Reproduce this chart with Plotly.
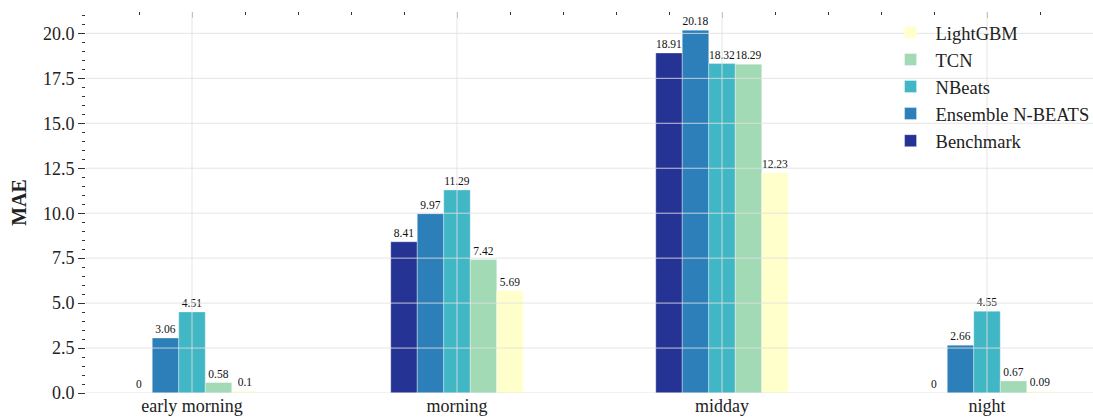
import plotly.graph_objects as go

# periods of the day on the x axis
periods = ["early morning", "morning", "midday", "night"]

# MAE per model, one value per period
benchmark = [0, 8.41, 18.91, 0]
ensemble_nbeats = [3.06, 9.97, 20.18, 2.66]
nbeats = [4.51, 11.29, 18.32, 4.55]
tcn = [0.58, 7.42, 18.29, 0.67]
lightgbm = [0.1, 5.69, 12.23, 0.09]

y_ticks = [0, 2.5, 5, 7.5, 10, 12.5, 15, 17.5, 20]

SERIES = [
    ("Benchmark", benchmark, "#253494"),
    ("Ensemble N-BEATS", ensemble_nbeats, "#2c7fb8"),
    ("NBeats", nbeats, "#41b6c4"),
    ("TCN", tcn, "#a1dab4"),
    ("LightGBM", lightgbm, "#ffffcc"),
]

FONT = "Liberation Serif"
GRID = "rgba(225,225,225,0.85)"

pos = list(range(len(periods)))
xrange = [-0.4, len(periods) - 0.6]

fig = go.Figure()
for name, vals, color in SERIES:
    fig.add_trace(go.Bar(
        x=pos, y=vals, name=name, xaxis="x2",
        marker=dict(color=color, line=dict(color="rgba(255,255,255,0.35)", width=1)),
        text=[f"{v:g}" for v in vals],
        textposition="outside", constraintext="none", cliponaxis=False,
        textfont=dict(family=FONT, size=11.5, color="#111"),
        hovertemplate=name + " %{y}<extra></extra>",
    ))

# gridlines drawn over the bars, like in the source figure
for i in pos:
    fig.add_shape(type="line", xref="x", yref="paper", x0=i, x1=i, y0=0, y1=1,
                  line=dict(color=GRID, width=1), layer="above")
for t in y_ticks:
    fig.add_shape(type="line", xref="paper", yref="y", x0=0, x1=1, y0=t, y1=t,
                  line=dict(color=GRID, width=1), layer="above")

ymax = max(max(s[1]) for s in SERIES) * 1.05

fig.update_layout(
    width=1093, height=418,
    margin=dict(l=86, r=0, t=12, b=25, autoexpand=False),
    plot_bgcolor="white", paper_bgcolor="white",
    font=dict(family=FONT, color="#222", size=18),
    barmode="group", bargap=0.5, bargroupgap=0,
    xaxis=dict(type="linear", range=xrange, tickvals=pos, ticktext=periods,
               showgrid=False, zeroline=False, ticks="", showline=False,
               tickfont=dict(size=18), automargin=False),
    xaxis2=dict(type="linear", overlaying="x", side="top", range=xrange, anchor="y",
                tick0=0, dtick=1, showticklabels=False, showgrid=False, zeroline=False,
                ticks="inside", ticklen=6, tickcolor="#aaa", tickwidth=1,
                minor=dict(dtick=0.2, ticks="inside", ticklen=3, tickcolor="#333"),
                automargin=False),
    yaxis=dict(range=[0, ymax], tickvals=y_ticks, tickformat=".1f",
               showgrid=False, zeroline=False, showline=False,
               ticks="outside", ticklen=7, tickcolor="#333", tickwidth=1,
               minor=dict(dtick=0.5, ticks="outside", ticklen=3, tickcolor="#333"),
               tickfont=dict(size=18), automargin=False,
               title=dict(text="<b>MAE</b>", font=dict(size=20), standoff=10)),
    legend=dict(x=0.794, y=0.995, xanchor="left", yanchor="top",
                traceorder="reversed", bgcolor="rgba(0,0,0,0)",
                font=dict(size=18.5), itemwidth=40, tracegroupgap=0),
    showlegend=True,
)

# drop the page's default body margin so the figure sits at the window corner
fig.write_html("out.html", config={"displayModeBar": False},
               post_script="document.body.style.margin='0';")
